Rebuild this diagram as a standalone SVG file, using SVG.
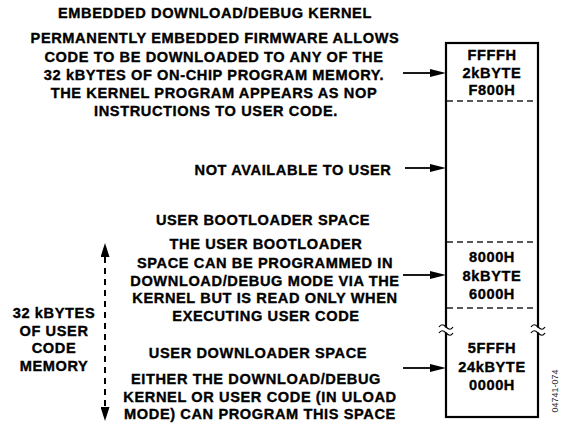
<svg xmlns="http://www.w3.org/2000/svg" width="563" height="424" viewBox="0 0 563 424">
<style>
  text { font-family: "Liberation Sans", Arial, Helvetica, sans-serif; font-weight: bold; font-size: 14.6px; letter-spacing: 0.6px; fill: #000; stroke: #000; stroke-width: 0.35px; text-anchor: middle; }
  .box { fill: none; stroke: #000; stroke-width: 2.2; }
  .div { stroke: #222; stroke-width: 1.6; stroke-dasharray: 6 4; }
  .arrow { stroke: #000; stroke-width: 1.8; fill: none; }
  .squig { stroke: #000; stroke-width: 1.2; fill: none; }
  .tag { font-weight: normal; font-size: 9px; letter-spacing: 0; fill: #333; stroke: none; }
</style>
<defs>
  <marker id="ah" markerUnits="userSpaceOnUse" markerWidth="17" markerHeight="9" refX="0" refY="4" orient="auto">
    <path d="M0,0 L16,4 L0,8 z" fill="#000"/>
  </marker>
  <marker id="vh" markerUnits="userSpaceOnUse" markerWidth="16" markerHeight="9" refX="0" refY="4.5" orient="auto-start-reverse">
    <path d="M0,0 L14,4.5 L0,9 z" fill="#000"/>
  </marker>
</defs>

<g id="kernel-text">
  <text x="215" y="18">EMBEDDED DOWNLOAD/DEBUG KERNEL</text>
  <text x="215" y="43">PERMANENTLY EMBEDDED FIRMWARE ALLOWS</text>
  <text x="214" y="62">CODE TO BE DOWNLOADED TO ANY OF THE</text>
  <text x="214" y="80">32 kBYTES OF ON-CHIP PROGRAM MEMORY.</text>
  <text x="214" y="98">THE KERNEL PROGRAM APPEARS AS NOP</text>
  <text x="216" y="116">INSTRUCTIONS TO USER CODE.</text>
</g>

<g id="not-available-text">
  <text x="293" y="175">NOT AVAILABLE TO USER</text>
</g>

<g id="bootloader-text">
  <text x="263" y="225">USER BOOTLOADER SPACE</text>
  <text x="266" y="249">THE USER BOOTLOADER</text>
  <text x="265" y="268">SPACE CAN BE PROGRAMMED IN</text>
  <text x="265" y="286">DOWNLOAD/DEBUG MODE VIA THE</text>
  <text x="265" y="303">KERNEL BUT IS READ ONLY WHEN</text>
  <text x="266" y="321">EXECUTING USER CODE</text>
</g>

<g id="downloader-text">
  <text x="258" y="358">USER DOWNLOADER SPACE</text>
  <text x="256" y="384">EITHER THE DOWNLOAD/DEBUG</text>
  <text x="260" y="402">KERNEL OR USER CODE (IN ULOAD</text>
  <text x="260" y="419">MODE) CAN PROGRAM THIS SPACE</text>
</g>

<g id="user-memory-text">
  <text x="54" y="318">32 kBYTES</text>
  <text x="54" y="336">OF USER</text>
  <text x="54" y="353">CODE</text>
  <text x="54" y="371">MEMORY</text>
</g>

<g id="memory-map">
  <rect class="box" x="446" y="43" width="92" height="374"/>
  <line class="div" x1="447" y1="101" x2="537" y2="101"/>
  <line class="div" x1="447" y1="242" x2="537" y2="242"/>
  <line class="div" x1="447" y1="308" x2="537" y2="308"/>
  <rect x="440" y="327.5" width="12" height="5" fill="#fff"/>
  <rect x="532" y="327.5" width="12" height="5" fill="#fff"/>
  <path class="squig" d="M439,327 c2,-3 4,-3 7,0 s5,3 7,0 M439,333 c2,-3 4,-3 7,0 s5,3 7,0"/>
  <path class="squig" d="M531,327 c2,-3 4,-3 7,0 s5,3 7,0 M531,333 c2,-3 4,-3 7,0 s5,3 7,0"/>
</g>

<g id="region-kernel">
  <text x="492" y="60">FFFFH</text>
  <text x="492" y="78">2kBYTE</text>
  <text x="492" y="95">F800H</text>
</g>
<g id="region-bootloader">
  <text x="492" y="262">8000H</text>
  <text x="492" y="281">8kBYTE</text>
  <text x="492" y="299">6000H</text>
</g>
<g id="region-downloader">
  <text x="492" y="353">5FFFH</text>
  <text x="492" y="372">24kBYTE</text>
  <text x="492" y="390">0000H</text>
</g>

<g id="connectors">
  <line class="arrow" x1="403" y1="73" x2="430" y2="73" marker-end="url(#ah)"/>
  <line class="arrow" x1="405" y1="168" x2="430" y2="168" marker-end="url(#ah)"/>
  <line class="arrow" x1="403" y1="275" x2="430" y2="275" marker-end="url(#ah)"/>
  <line class="arrow" x1="403" y1="368" x2="430" y2="368" marker-end="url(#ah)"/>
  <line x1="105" y1="257" x2="105" y2="407" stroke="#000" stroke-width="2" stroke-dasharray="6 5" marker-start="url(#vh)" marker-end="url(#vh)"/>
</g>

<g id="figure-tag">
  <text class="tag" x="555" y="394" transform="rotate(-90 555 391)">04741-074</text>
</g>
</svg>
